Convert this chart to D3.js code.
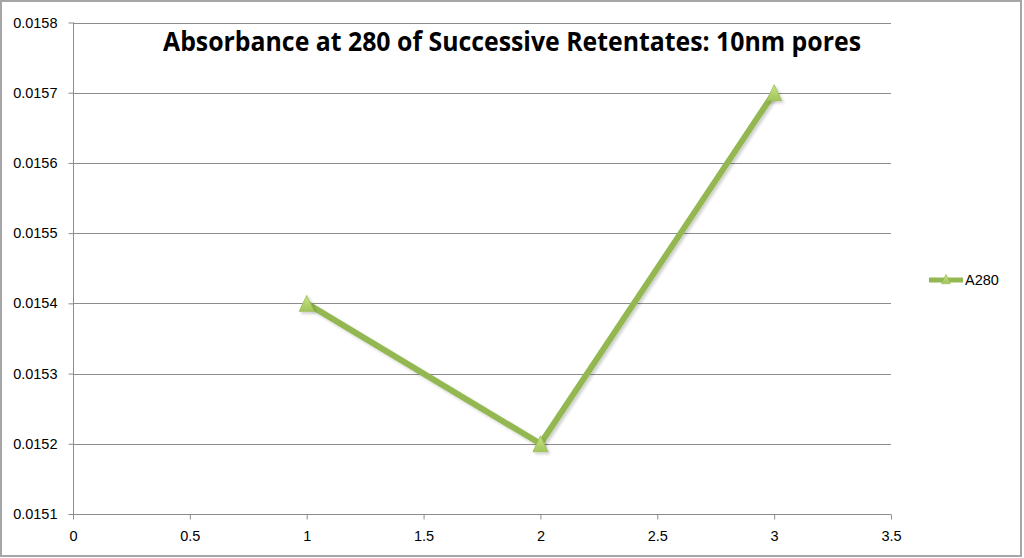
<!DOCTYPE html>
<html><head><meta charset="utf-8">
<script src="https://cdn.jsdelivr.net/npm/d3@7"></script>
<style>body{margin:0;background:#fff}svg{display:block}</style>
</head><body>
<svg id="c" width="1024" height="558"></svg>
<script>
const xValues = [1, 2, 3];
const a280 = [0.0154, 0.0152, 0.0157];
const xTicks = [0, 0.5, 1, 1.5, 2, 2.5, 3, 3.5];
const yTicks = [0.0151, 0.0152, 0.0153, 0.0154, 0.0155, 0.0156, 0.0157, 0.0158];
const seriesName = "A280";
const title = "Absorbance at 280 of Successive Retentates: 10nm pores";

const svg = d3.select("#c");
const font = "'Liberation Sans', Arial, sans-serif";
const tfont = "'Open Sans', 'Liberation Sans', sans-serif";
svg.append("rect").attr("x",1).attr("y",1).attr("width",1020).attr("height",555)
  .attr("fill","#fff").attr("stroke","#a6a6a6").attr("stroke-width",2);

const x = d3.scaleLinear().domain([0,3.5]).range([73,891]);
const y = d3.scaleLinear().domain([0.0151,0.0158]).range([514,22.5]);

// grid
svg.append("g").selectAll("line").data(yTicks.slice(1)).join("line")
  .attr("x1",73).attr("x2",891).attr("y1",d=>Math.round(y(d))+0.5).attr("y2",d=>Math.round(y(d))+0.5)
  .attr("stroke","#8c8c8c").attr("stroke-width",1);

// y axis
const ya = svg.append("g").attr("transform","translate(73.5,0)")
  .call(d3.axisLeft(y).tickValues(yTicks).tickFormat(d3.format(".4f")).tickSize(5).tickPadding(11));
ya.select(".domain").attr("stroke","#8c8c8c").attr("d","M0,"+y(0.0158)+"V"+y(0.0151));
ya.selectAll(".tick line").attr("stroke","#8c8c8c");
ya.selectAll(".tick text").attr("font-family",font).attr("font-size",14.5).attr("fill","#000");

// x axis
const xa = svg.append("g").attr("transform","translate(0,"+(Math.round(y(0.0151))+0.5)+")")
  .call(d3.axisBottom(x).tickValues(xTicks).tickFormat(d=>String(d)).tickSize(5).tickPadding(11));
xa.select(".domain").attr("stroke","#8c8c8c").attr("d","M73,0H891");
xa.selectAll(".tick line").attr("stroke","#8c8c8c");
xa.selectAll(".tick text").attr("font-family",font).attr("font-size",14.5).attr("fill","#000");

// shadow filter + gradient
const defs = svg.append("defs");
const f = defs.append("filter").attr("id","sh").attr("x","-20%").attr("y","-20%").attr("width","150%").attr("height","150%");
f.append("feGaussianBlur").attr("in","SourceAlpha").attr("stdDeviation",1.5);
f.append("feOffset").attr("dx",1.5).attr("dy",1.5).attr("result","b");
f.append("feComponentTransfer").append("feFuncA").attr("type","linear").attr("slope",0.2);
const m = f.append("feMerge"); m.append("feMergeNode"); m.append("feMergeNode").attr("in","SourceGraphic");
const g = defs.append("linearGradient").attr("id","tg").attr("x1",0).attr("y1",0).attr("x2",0).attr("y2",1);
g.append("stop").attr("offset","0%").attr("stop-color","#c6e67f");
g.append("stop").attr("offset","100%").attr("stop-color","#a2c45c");

const data = xValues.map((v,i)=>({x:v,y:a280[i]}));
const line = d3.line().x(d=>x(d.x)).y(d=>y(d.y));
svg.append("path").datum(data).attr("d",line).attr("fill","none")
  .attr("stroke","#94b851").attr("stroke-width",6).attr("stroke-linejoin","round").attr("filter","url(#sh)");

const triType = {draw(ctx, size){ const h=8, w=7.5; ctx.moveTo(0,-h); ctx.lineTo(w,h); ctx.lineTo(-w,h); ctx.closePath(); }};
svg.append("g").selectAll("path").data(data).join("path")
  .attr("transform",d=>`translate(${x(d.x)},${y(d.y)})`).attr("d",d3.symbol().type(triType)())
  .attr("fill","url(#tg)").attr("stroke","#9bbb59").attr("stroke-width",0.8).attr("filter","url(#sh)");

// legend
const lg = svg.append("g");
lg.append("line").attr("x1",929).attr("x2",963).attr("y1",280).attr("y2",280)
  .attr("stroke","#94b851").attr("stroke-width",5);
lg.append("path").attr("transform","translate(946,279) scale(0.6)").attr("d",d3.symbol().type(triType)())
  .attr("fill","url(#tg)").attr("stroke","#9bbb59");
lg.append("text").attr("x",965).attr("y",285).text(seriesName)
  .attr("font-family",font).attr("font-size",14.5).attr("fill","#000");

// title
svg.append("text").attr("x",512).attr("y",51).attr("text-anchor","middle")
  .attr("font-family",tfont).attr("font-weight","bold").attr("font-size",26)
  .attr("textLength",698).attr("lengthAdjust","spacingAndGlyphs").text(title);
</script>
</body></html>
